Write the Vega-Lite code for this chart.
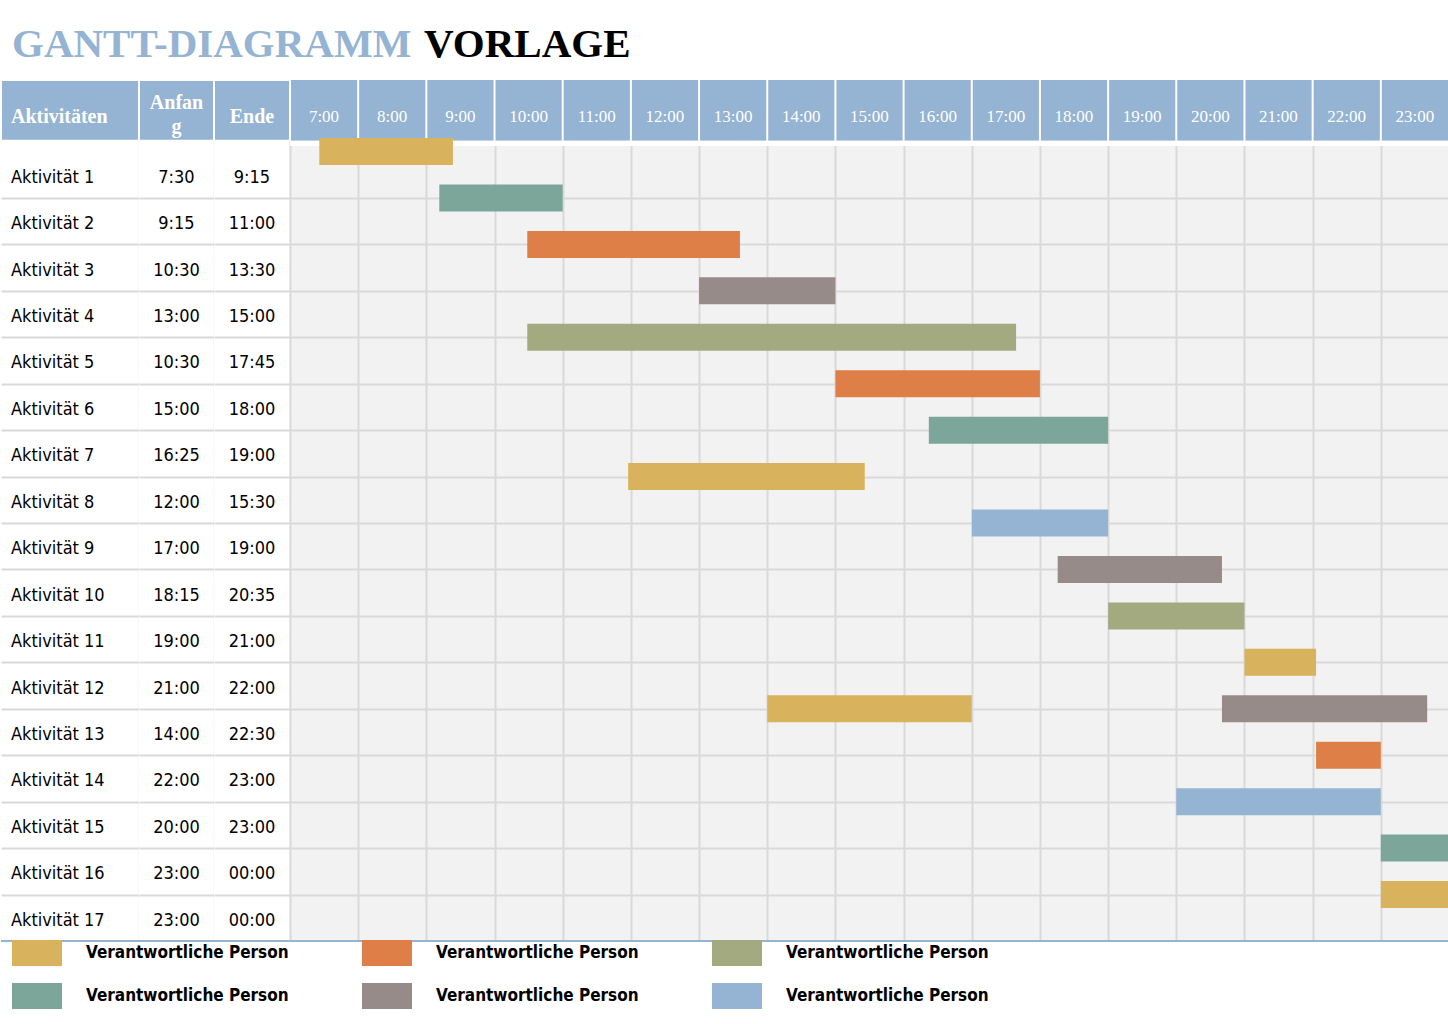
{
  "$schema": "https://vega.github.io/schema/vega-lite/v6.json",
  "background": "white",
  "padding": {"left": 0, "top": 24, "right": 0, "bottom": 0},
  "bounds": "flush",
  "spacing": 0,
  "datasets": {
    "rows": [
      {"row": 1, "aktivitaet": "Aktivität 1", "anfang": "7:30", "ende": "9:15"},
      {"row": 2, "aktivitaet": "Aktivität 2", "anfang": "9:15", "ende": "11:00"},
      {"row": 3, "aktivitaet": "Aktivität 3", "anfang": "10:30", "ende": "13:30"},
      {"row": 4, "aktivitaet": "Aktivität 4", "anfang": "13:00", "ende": "15:00"},
      {"row": 5, "aktivitaet": "Aktivität 5", "anfang": "10:30", "ende": "17:45"},
      {"row": 6, "aktivitaet": "Aktivität 6", "anfang": "15:00", "ende": "18:00"},
      {"row": 7, "aktivitaet": "Aktivität 7", "anfang": "16:25", "ende": "19:00"},
      {"row": 8, "aktivitaet": "Aktivität 8", "anfang": "12:00", "ende": "15:30"},
      {"row": 9, "aktivitaet": "Aktivität 9", "anfang": "17:00", "ende": "19:00"},
      {"row": 10, "aktivitaet": "Aktivität 10", "anfang": "18:15", "ende": "20:35"},
      {"row": 11, "aktivitaet": "Aktivität 11", "anfang": "19:00", "ende": "21:00"},
      {"row": 12, "aktivitaet": "Aktivität 12", "anfang": "21:00", "ende": "22:00"},
      {"row": 13, "aktivitaet": "Aktivität 13", "anfang": "14:00", "ende": "22:30"},
      {"row": 14, "aktivitaet": "Aktivität 14", "anfang": "22:00", "ende": "23:00"},
      {"row": 15, "aktivitaet": "Aktivität 15", "anfang": "20:00", "ende": "23:00"},
      {"row": 16, "aktivitaet": "Aktivität 16", "anfang": "23:00", "ende": "00:00"},
      {"row": 17, "aktivitaet": "Aktivität 17", "anfang": "23:00", "ende": "00:00"}
    ],
    "bars": [
      {"row": 1, "start": 7.43, "end": 9.39, "person": "Person 1"},
      {"row": 2, "start": 9.19, "end": 11.0, "person": "Person 4"},
      {"row": 3, "start": 10.48, "end": 13.6, "person": "Person 2"},
      {"row": 4, "start": 13.0, "end": 15.0, "person": "Person 5"},
      {"row": 5, "start": 10.48, "end": 17.65, "person": "Person 3"},
      {"row": 6, "start": 15.0, "end": 18.0, "person": "Person 2"},
      {"row": 7, "start": 16.37, "end": 19.0, "person": "Person 4"},
      {"row": 8, "start": 11.96, "end": 15.43, "person": "Person 1"},
      {"row": 9, "start": 17.0, "end": 19.0, "person": "Person 6"},
      {"row": 10, "start": 18.26, "end": 20.67, "person": "Person 5"},
      {"row": 11, "start": 19.0, "end": 21.0, "person": "Person 3"},
      {"row": 12, "start": 21.0, "end": 22.05, "person": "Person 1"},
      {"row": 13, "start": 14.0, "end": 17.0, "person": "Person 1"},
      {"row": 13, "start": 20.67, "end": 23.68, "person": "Person 5"},
      {"row": 14, "start": 22.05, "end": 23.0, "person": "Person 2"},
      {"row": 15, "start": 20.0, "end": 23.0, "person": "Person 6"},
      {"row": 16, "start": 23.0, "end": 24.0, "person": "Person 4"},
      {"row": 17, "start": 23.0, "end": 24.0, "person": "Person 1"}
    ],
    "hours": [
      {"hour": 7, "label": "7:00"}, {"hour": 8, "label": "8:00"}, {"hour": 9, "label": "9:00"},
      {"hour": 10, "label": "10:00"}, {"hour": 11, "label": "11:00"}, {"hour": 12, "label": "12:00"},
      {"hour": 13, "label": "13:00"}, {"hour": 14, "label": "14:00"}, {"hour": 15, "label": "15:00"},
      {"hour": 16, "label": "16:00"}, {"hour": 17, "label": "17:00"}, {"hour": 18, "label": "18:00"},
      {"hour": 19, "label": "19:00"}, {"hour": 20, "label": "20:00"}, {"hour": 21, "label": "21:00"},
      {"hour": 22, "label": "22:00"}, {"hour": 23, "label": "23:00"}
    ]
  },
  "hconcat": [
    {
      "width": 138,
      "height": 861,
      "view": {"stroke": null, "fill": "white"},
      "title": {"text": "GANTT-DIAGRAMM", "anchor": "start", "frame": "group", "dx": 11, "offset": 13, "color": "#95B3D2", "fontSize": 41, "font": "Liberation Serif", "fontWeight": "bold"},
      "layer": [
        {
          "data": {"values": [{}]},
          "mark": {"type": "rect", "fill": "#95B3D2", "stroke": "white", "strokeWidth": 2},
          "encoding": {
            "x": {"datum": 0, "type": "quantitative", "scale": {"domain": [0, 1], "nice": false, "zero": false, "padding": 0},
                  "axis": {"values": [1], "grid": true, "gridColor": "#E3E3E3", "gridWidth": 1.5, "labels": false, "ticks": false, "domain": false, "title": null}},
            "x2": {"datum": 1},
            "y": {"datum": -1.04, "type": "quantitative", "scale": {"domain": [-1.04, 17.5], "reverse": true, "nice": false, "zero": false, "padding": 0},
                  "axis": {"values": [1.5, 2.5, 3.5, 4.5, 5.5, 6.5, 7.5, 8.5, 9.5, 10.5, 11.5, 12.5, 13.5, 14.5, 15.5, 16.5], "grid": true, "gridColor": "#D9D9D9", "gridWidth": 2, "labels": false, "ticks": false, "domain": false, "title": null}},
            "y2": {"datum": 0.27}
          }
        },
        {
          "data": {"values": [{"label": "Aktivitäten"}]},
          "mark": {"type": "text", "align": "left", "baseline": "middle", "color": "white", "font": "Liberation Serif", "fontWeight": "bold", "fontSize": 20},
          "encoding": {"x": {"datum": 0.072, "type": "quantitative"}, "y": {"datum": -0.244, "type": "quantitative"}, "text": {"field": "label"}}
        },
        {
          "data": {"name": "rows"},
          "mark": {"type": "text", "align": "left", "baseline": "middle", "dy": 3, "color": "black", "font": "DejaVu Sans Condensed, Liberation Sans", "fontSize": 18},
          "encoding": {"x": {"datum": 0.072, "type": "quantitative"}, "y": {"field": "row", "type": "quantitative"}, "text": {"field": "aktivitaet"}}
        },
        {
          "data": {"values": [{}]},
          "mark": {"type": "rule", "color": "#95B3D2", "strokeWidth": 2},
          "encoding": {"x": {"datum": 0, "type": "quantitative"}, "x2": {"datum": 1}, "y": {"datum": 17.5, "type": "quantitative"}}
        }
      ]
    },
    {
      "width": 75,
      "height": 861,
      "view": {"stroke": null, "fill": "white"},
      "layer": [
        {
          "data": {"values": [{}]},
          "mark": {"type": "rect", "fill": "#95B3D2", "stroke": "white", "strokeWidth": 2},
          "encoding": {
            "x": {"datum": 0, "type": "quantitative", "scale": {"domain": [0, 1], "nice": false, "zero": false, "padding": 0},
                  "axis": {"values": [1], "grid": true, "gridColor": "#E3E3E3", "gridWidth": 1.5, "labels": false, "ticks": false, "domain": false, "title": null}},
            "x2": {"datum": 1},
            "y": {"datum": -1.04, "type": "quantitative", "scale": {"domain": [-1.04, 17.5], "reverse": true, "nice": false, "zero": false, "padding": 0},
                  "axis": {"values": [1.5, 2.5, 3.5, 4.5, 5.5, 6.5, 7.5, 8.5, 9.5, 10.5, 11.5, 12.5, 13.5, 14.5, 15.5, 16.5], "grid": true, "gridColor": "#D9D9D9", "gridWidth": 2, "labels": false, "ticks": false, "domain": false, "title": null}},
            "y2": {"datum": 0.27}
          }
        },
        {
          "data": {"values": [{"label": "Anfan\ng"}]},
          "mark": {"type": "text", "align": "center", "baseline": "middle", "lineBreak": "\n", "lineHeight": 24, "color": "white", "font": "Liberation Serif", "fontWeight": "bold", "fontSize": 20},
          "encoding": {"x": {"datum": 0.5, "type": "quantitative"}, "y": {"datum": -0.546, "type": "quantitative"}, "text": {"field": "label"}}
        },
        {
          "data": {"name": "rows"},
          "mark": {"type": "text", "align": "center", "baseline": "middle", "dy": 3, "color": "black", "font": "DejaVu Sans Condensed, Liberation Sans", "fontSize": 18},
          "encoding": {"x": {"datum": 0.5, "type": "quantitative"}, "y": {"field": "row", "type": "quantitative"}, "text": {"field": "anfang"}}
        },
        {
          "data": {"values": [{}]},
          "mark": {"type": "rule", "color": "#95B3D2", "strokeWidth": 2},
          "encoding": {"x": {"datum": 0, "type": "quantitative"}, "x2": {"datum": 1}, "y": {"datum": 17.5, "type": "quantitative"}}
        }
      ]
    },
    {
      "width": 76,
      "height": 861,
      "view": {"stroke": null, "fill": "white"},
      "layer": [
        {
          "data": {"values": [{}]},
          "mark": {"type": "rect", "fill": "#95B3D2", "stroke": "white", "strokeWidth": 2},
          "encoding": {
            "x": {"datum": 0, "type": "quantitative", "scale": {"domain": [0, 1], "nice": false, "zero": false, "padding": 0},
                  "axis": {"values": [1], "grid": true, "gridColor": "#E3E3E3", "gridWidth": 1.5, "labels": false, "ticks": false, "domain": false, "title": null}},
            "x2": {"datum": 1},
            "y": {"datum": -1.04, "type": "quantitative", "scale": {"domain": [-1.04, 17.5], "reverse": true, "nice": false, "zero": false, "padding": 0},
                  "axis": {"values": [1.5, 2.5, 3.5, 4.5, 5.5, 6.5, 7.5, 8.5, 9.5, 10.5, 11.5, 12.5, 13.5, 14.5, 15.5, 16.5], "grid": true, "gridColor": "#D9D9D9", "gridWidth": 2, "labels": false, "ticks": false, "domain": false, "title": null}},
            "y2": {"datum": 0.27}
          }
        },
        {
          "data": {"values": [{"label": "Ende"}]},
          "mark": {"type": "text", "align": "center", "baseline": "middle", "color": "white", "font": "Liberation Serif", "fontWeight": "bold", "fontSize": 20},
          "encoding": {"x": {"datum": 0.5, "type": "quantitative"}, "y": {"datum": -0.244, "type": "quantitative"}, "text": {"field": "label"}}
        },
        {
          "data": {"name": "rows"},
          "mark": {"type": "text", "align": "center", "baseline": "middle", "dy": 3, "color": "black", "font": "DejaVu Sans Condensed, Liberation Sans", "fontSize": 18},
          "encoding": {"x": {"datum": 0.5, "type": "quantitative"}, "y": {"field": "row", "type": "quantitative"}, "text": {"field": "ende"}}
        },
        {
          "data": {"values": [{}]},
          "mark": {"type": "rule", "color": "#95B3D2", "strokeWidth": 2},
          "encoding": {"x": {"datum": 0, "type": "quantitative"}, "x2": {"datum": 1}, "y": {"datum": 17.5, "type": "quantitative"}}
        }
      ]
    },
    {
      "width": 1159,
      "height": 861,
      "view": {"stroke": null, "fill": "#F2F2F2"},
      "title": {"text": "VORLAGE", "anchor": "start", "frame": "group", "dx": 134, "offset": 13, "color": "black", "fontSize": 41, "font": "Liberation Serif", "fontWeight": "bold"},
      "layer": [
        {
          "data": {"values": [{}]},
          "mark": {"type": "rect", "fill": "#95B3D2"},
          "encoding": {
            "x": {"datum": 7, "type": "quantitative", "scale": {"domain": [7, 24], "nice": false, "zero": false, "padding": 0},
                  "axis": {"values": [7, 8, 9, 10, 11, 12, 13, 14, 15, 16, 17, 18, 19, 20, 21, 22, 23], "grid": true, "gridColor": "#D9D9D9", "gridWidth": 2, "labels": false, "ticks": false, "domain": false, "title": null}},
            "x2": {"datum": 24},
            "y": {"datum": -0.54, "type": "quantitative", "scale": {"domain": [-0.54, 18], "reverse": true, "nice": false, "zero": false, "padding": 0},
                  "axis": {"values": [2, 3, 4, 5, 6, 7, 8, 9, 10, 11, 12, 13, 14, 15, 16, 17], "grid": true, "gridColor": "#D9D9D9", "gridWidth": 2, "labels": false, "ticks": false, "domain": false, "title": null}},
            "y2": {"datum": 0.77}
          }
        },
        {
          "data": {"values": [{}]},
          "mark": {"type": "rect", "fill": "white"},
          "encoding": {"x": {"datum": 7, "type": "quantitative"}, "x2": {"datum": 24}, "y": {"datum": 0.77, "type": "quantitative"}, "y2": {"datum": 0.88}}
        },
        {
          "data": {"name": "hours"},
          "mark": {"type": "rule", "color": "white", "strokeWidth": 2},
          "encoding": {"x": {"field": "hour", "type": "quantitative"}, "y": {"datum": -0.54, "type": "quantitative"}, "y2": {"datum": 0.77}}
        },
        {
          "data": {"name": "hours"},
          "mark": {"type": "text", "align": "center", "baseline": "middle", "dx": 34, "color": "white", "font": "Liberation Serif", "fontSize": 17},
          "encoding": {"x": {"field": "hour", "type": "quantitative"}, "y": {"datum": 0.26, "type": "quantitative"}, "text": {"field": "label"}}
        },
        {
          "data": {"name": "bars"},
          "mark": {"type": "bar", "orient": "horizontal", "height": 27},
          "encoding": {
            "x": {"field": "start", "type": "quantitative"},
            "x2": {"field": "end"},
            "y": {"field": "row", "type": "quantitative"},
            "color": {
              "field": "person", "type": "nominal",
              "scale": {"domain": ["Person 1", "Person 2", "Person 3", "Person 4", "Person 5", "Person 6"],
                        "range": ["#D9B25D", "#DE7F47", "#A3AA80", "#7BA699", "#968B89", "#95B4D3"]},
              "legend": {
                "orient": "none", "legendX": 23, "legendY": 860, "direction": "horizontal", "columns": 3, "title": null,
                "symbolType": "M-1.923,-1H1.923V1H-1.923Z", "symbolSize": 676, "symbolStrokeWidth": 0, "symbolOpacity": 1,
                "labelExpr": "'Verantwortliche Person'", "labelFont": "DejaVu Sans Condensed, Liberation Sans",
                "labelFontWeight": "bold", "labelFontSize": 17, "labelColor": "black", "labelOffset": 36, "labelLimit": 400,
                "columnPadding": 73, "rowPadding": 17
              }
            }
          }
        },
        {
          "data": {"values": [{}]},
          "mark": {"type": "rule", "color": "#95B3D2", "strokeWidth": 2},
          "encoding": {"x": {"datum": 7, "type": "quantitative"}, "x2": {"datum": 24}, "y": {"datum": 18, "type": "quantitative"}}
        }
      ]
    }
  ],
  "config": {
    "view": {"stroke": null},
    "axis": {"labels": false, "ticks": false, "domain": false}
  }
}
